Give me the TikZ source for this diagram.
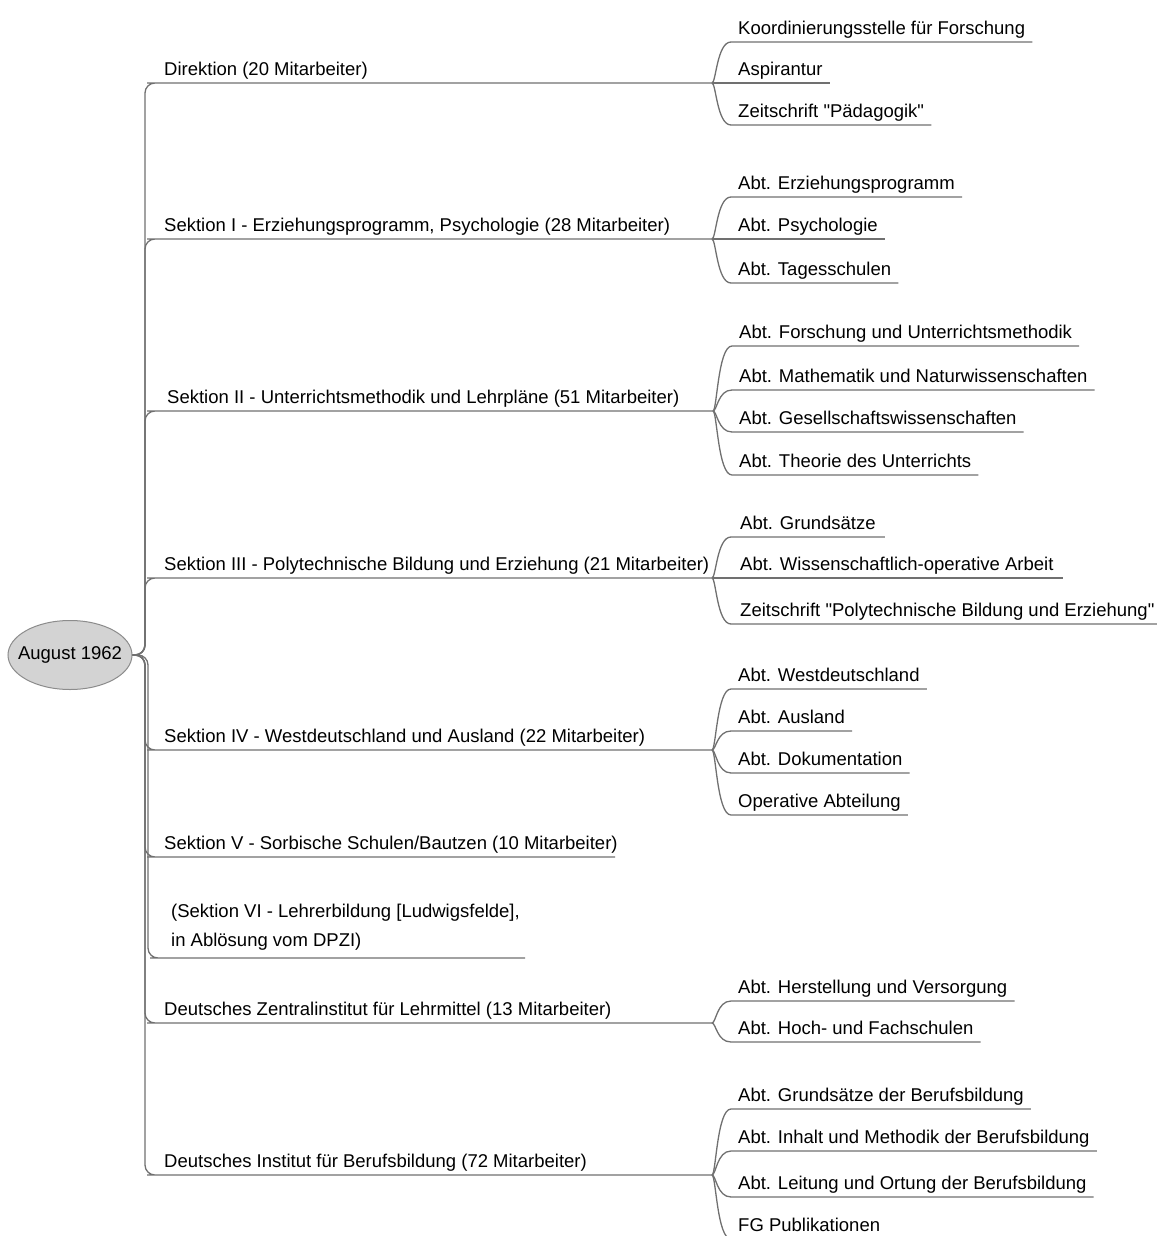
\documentclass[tikz,border=0pt]{standalone}
\usepackage{fontspec}
\setmainfont{Liberation Sans}[Ligatures=TeXOff]
\usetikzlibrary{shapes.geometric,calc}
\definecolor{linegray}{RGB}{112,112,112}
\definecolor{rootfill}{RGB}{211,211,211}
\definecolor{rootdraw}{RGB}{140,140,140}
\newcommand\trunklink[2]{\draw[link, rounded corners=10pt] (root.east) -| ($(#1.south west)+(-12,0)$) -- (#1.south west) -- (#2);}
\newcommand\kidlink[2]{\draw[link] (#1) .. controls ($(#1)+(4,0)$) and ($(#1 |- #2.south west)+(5,0)$) .. (#2.south west) -- (#2.south east);}
\begin{document}
\begin{tikzpicture}[x=1pt,y=-1pt,
  topic/.style={anchor=south west, inner xsep=7pt, inner ysep=3pt, text depth=4pt,
    font=\fontsize{18.5}{22}\selectfont, text=black},
  link/.style={draw=linegray, line width=1.3pt},
  rootnode/.style={ellipse, draw=rootdraw, fill=rootfill, line width=1pt,
    minimum width=124pt, minimum height=69pt, inner sep=0pt,
    font=\fontsize{18.5}{22}\selectfont}]
\useasboundingbox (0,0) rectangle (1156,1236);

% root
\node[rootnode] (root) at (70,655) {\makebox[0pt]{August 1962}};

% level 1
\node[topic] (d1) at (157,83) {Direktion (20 Mitarbeiter)};
\coordinate (d1e) at (712,83);
\node[topic] (s1) at (157,239) {Sektion I - Erziehungsprogramm, Psychologie (28 Mitarbeiter)};
\coordinate (s1e) at (712,239);
\node[topic, inner xsep=10pt] (s2) at (157,411) {Sektion II - Unterrichtsmethodik und Lehrpläne (51 Mitarbeiter)};
\coordinate (s2e) at (713,411);
\node[topic] (s3) at (157,578) {Sektion III - Polytechnische Bildung und Erziehung (21 Mitarbeiter)};
\coordinate (s3e) at (712,578);
\node[topic] (s4) at (157,750) {Sektion IV - Westdeutschland und Ausland (22 Mitarbeiter)};
\coordinate (s4e) at (712,750);
\node[topic] (s5) at (157,857) {Sektion V - Sorbische Schulen/Bautzen (10 Mitarbeiter)};
\coordinate (s5e) at (615,857);
\node[topic, inner xsep=11pt, inner ysep=7pt] (s6) at (160,958)
  {\parbox[b]{400pt}{\fontsize{18.5}{29}\selectfont\raggedright (Sektion VI - Lehrerbildung [Ludwigsfelde],\\ in Ablösung vom DPZI)}};
\coordinate (s6e) at (525,958);
\node[topic] (dz) at (157,1023) {Deutsches Zentralinstitut für Lehrmittel (13 Mitarbeiter)};
\coordinate (dze) at (712,1023);
\node[topic] (db) at (157,1175) {Deutsches Institut für Berufsbildung (72 Mitarbeiter)};
\coordinate (dbe) at (712,1175);

% level 2
\node[topic] (d1a) at (731,42) {Koordinierungsstelle für Forschung};
\node[topic] (d1b) at (731,83) {Aspirantur};
\node[topic] (d1c) at (731,125) {Zeitschrift "Pädagogik"};

\node[topic] (s1a) at (731,197) {Abt. Erziehungsprogramm};
\node[topic] (s1b) at (731,239) {Abt. Psychologie};
\node[topic] (s1c) at (731,283) {Abt. Tagesschulen};

\node[topic] (s2a) at (732,346) {Abt. Forschung und Unterrichtsmethodik};
\node[topic] (s2b) at (732,390) {Abt. Mathematik und Naturwissenschaften};
\node[topic] (s2c) at (732,432) {Abt. Gesellschaftswissenschaften};
\node[topic] (s2d) at (732,475) {Abt. Theorie des Unterrichts};

\node[topic, inner xsep=9pt] (s3a) at (731,537) {Abt. Grundsätze};
\node[topic, inner xsep=9pt] (s3b) at (731,578) {Abt. Wissenschaftlich-operative Arbeit};
\node[topic, inner xsep=9pt] (s3c) at (731,624) {Zeitschrift "Polytechnische Bildung und Erziehung"};

\node[topic] (s4a) at (731,689) {Abt. Westdeutschland};
\node[topic] (s4b) at (731,731) {Abt. Ausland};
\node[topic] (s4c) at (731,773) {Abt. Dokumentation};
\node[topic] (s4d) at (731,815) {Operative Abteilung};

\node[topic] (dza) at (731,1001) {Abt. Herstellung und Versorgung};
\node[topic] (dzb) at (731,1042) {Abt. Hoch- und Fachschulen};

\node[topic] (dba) at (731,1109) {Abt. Grundsätze der Berufsbildung};
\node[topic] (dbb) at (731,1151) {Abt. Inhalt und Methodik der Berufsbildung};
\node[topic] (dbc) at (731,1197) {Abt. Leitung und Ortung der Berufsbildung};
\node[topic] (dbd) at (731,1239) {FG Publikationen};

% connectors root -> level 1
\trunklink{d1}{d1e}
\trunklink{s1}{s1e}
\trunklink{s2}{s2e}
\trunklink{s3}{s3e}
\trunklink{s4}{s4e}
\trunklink{s5}{s5e}
\trunklink{s6}{s6e}
\trunklink{dz}{dze}
\trunklink{db}{dbe}

% connectors level 1 -> level 2
\kidlink{d1e}{d1a}
\kidlink{d1e}{d1b}
\kidlink{d1e}{d1c}
\kidlink{s1e}{s1a}
\kidlink{s1e}{s1b}
\kidlink{s1e}{s1c}
\kidlink{s2e}{s2a}
\kidlink{s2e}{s2b}
\kidlink{s2e}{s2c}
\kidlink{s2e}{s2d}
\kidlink{s3e}{s3a}
\kidlink{s3e}{s3b}
\kidlink{s3e}{s3c}
\kidlink{s4e}{s4a}
\kidlink{s4e}{s4b}
\kidlink{s4e}{s4c}
\kidlink{s4e}{s4d}
\kidlink{dze}{dza}
\kidlink{dze}{dzb}
\kidlink{dbe}{dba}
\kidlink{dbe}{dbb}
\kidlink{dbe}{dbc}
\kidlink{dbe}{dbd}
\end{tikzpicture}
\end{document}
